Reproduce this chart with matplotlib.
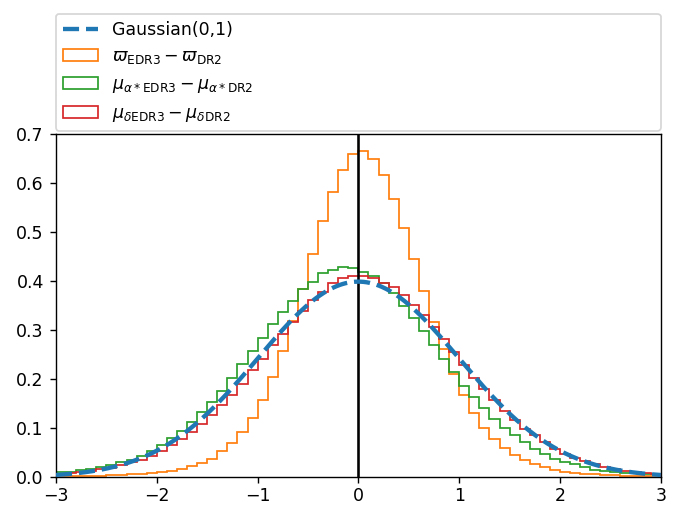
import numpy as np
import matplotlib
matplotlib.use("Agg")
import matplotlib.pyplot as plt

# bin edges: 60 bins of width 0.1 between -3 and 3
edges = np.round(np.arange(-3.0, 3.01, 0.1), 2)
centers = 0.5 * (edges[:-1] + edges[1:])

# normalised histogram heights
plx_diff = [0.002, 0.002, 0.002, 0.003, 0.003, 0.004, 0.005, 0.006, 0.007, 0.009,
            0.011, 0.013, 0.017, 0.022, 0.029, 0.038, 0.053, 0.070, 0.092, 0.120,
            0.157, 0.205, 0.257, 0.318, 0.384, 0.455, 0.523, 0.582, 0.627, 0.659,
            0.665, 0.650, 0.617, 0.567, 0.508, 0.446, 0.380, 0.317, 0.261, 0.210,
            0.167, 0.131, 0.101, 0.078, 0.060, 0.046, 0.034, 0.027, 0.020, 0.015,
            0.011, 0.009, 0.007, 0.006, 0.005, 0.004, 0.003, 0.003, 0.002, 0.002]

pmra_diff = [0.010, 0.011, 0.014, 0.017, 0.020, 0.024, 0.030, 0.036, 0.043, 0.054,
             0.066, 0.080, 0.095, 0.112, 0.132, 0.154, 0.176, 0.203, 0.230, 0.257,
             0.284, 0.313, 0.338, 0.360, 0.384, 0.399, 0.416, 0.423, 0.428, 0.426,
             0.419, 0.411, 0.396, 0.375, 0.350, 0.324, 0.298, 0.270, 0.242, 0.214,
             0.187, 0.163, 0.142, 0.119, 0.101, 0.085, 0.072, 0.058, 0.047, 0.038,
             0.031, 0.026, 0.020, 0.015, 0.012, 0.010, 0.009, 0.008, 0.007, 0.006]

pmdec_diff = [0.007, 0.009, 0.011, 0.013, 0.016, 0.019, 0.024, 0.030, 0.036, 0.044,
              0.054, 0.065, 0.078, 0.092, 0.109, 0.127, 0.147, 0.167, 0.190, 0.219,
              0.242, 0.269, 0.292, 0.317, 0.340, 0.362, 0.378, 0.396, 0.406, 0.410,
              0.410, 0.406, 0.397, 0.387, 0.371, 0.351, 0.330, 0.306, 0.281, 0.255,
              0.228, 0.203, 0.180, 0.157, 0.135, 0.117, 0.099, 0.085, 0.072, 0.058,
              0.048, 0.040, 0.032, 0.027, 0.021, 0.017, 0.013, 0.011, 0.009, 0.007]

# reference unit gaussian
xg = np.linspace(-3, 3, 400)
yg = np.exp(-0.5 * xg**2) / np.sqrt(2 * np.pi)

dpi = 125
fig = plt.figure(figsize=(678 / dpi, 506 / dpi), dpi=dpi)
ax = fig.add_axes([0.0826, 0.057, 0.892, 0.678])

ax.plot(xg, yg, '--', color='C0', lw=2.5, zorder=3, label='Gaussian(0,1)')
ax.hist(centers, bins=edges, weights=plx_diff, histtype='step', color='C1',
        label=r'$\varpi_{\rm EDR3} - \varpi_{\rm DR2}$')
ax.hist(centers, bins=edges, weights=pmra_diff, histtype='step', color='C2',
        label=r'$\mu_{\alpha*{\rm EDR3}} - \mu_{\alpha*{\rm DR2}}$')
ax.hist(centers, bins=edges, weights=pmdec_diff, histtype='step', color='C3',
        label=r'$\mu_{\delta{\rm EDR3}} - \mu_{\delta{\rm DR2}}$')
ax.axvline(0, color='k', lw=1.5)

ax.set_xlim(-3, 3)
ax.set_ylim(0, 0.7)
ax.tick_params(axis='x', pad=2.0)

ax.legend(loc='lower left', bbox_to_anchor=(0, 1.01, 1, 0.2), mode='expand',
          borderaxespad=0)

fig.savefig('out.png', dpi=dpi)
